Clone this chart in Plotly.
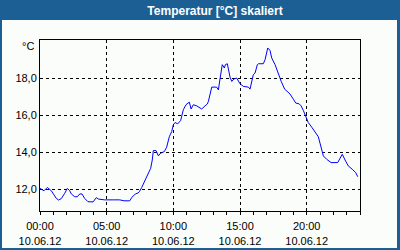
import plotly.graph_objects as go
import pandas as pd

# ---- data ----
hours = [0.0, 0.15, 0.3, 0.55, 0.85, 1.05, 1.22, 1.4, 1.6, 1.85, 2.05, 2.23, 2.35, 2.6, 2.8,
         2.98, 3.15, 3.35, 3.6, 3.98, 4.22, 4.4, 4.85, 5.5, 5.98, 6.3, 6.73, 6.9, 7.15, 7.35,
         7.45, 7.63, 7.87, 8.12, 8.3, 8.42, 8.5, 8.7, 8.88, 9.05, 9.32, 9.5, 9.7, 9.88, 10.0,
         10.13, 10.33, 10.55, 10.75, 10.95, 11.2, 11.33, 11.5, 11.75, 11.95, 12.13, 12.38,
         12.55, 12.63, 12.75, 12.88, 13.25, 13.38, 13.5, 13.63, 13.67, 13.83, 13.9, 14.05,
         14.12, 14.25, 14.38, 14.55, 14.75, 14.88, 15.0, 15.25, 15.63, 15.75, 15.88, 16.0,
         16.13, 16.3, 16.38, 16.75, 16.88, 17.0, 17.08, 17.25, 17.38, 17.63, 17.87, 18.1,
         18.35, 18.75, 19.0, 19.18, 19.43, 19.58, 19.75, 19.93, 20.12, 20.38, 20.63, 20.87,
         21.0, 21.13, 21.25, 21.5, 21.83, 22.33, 22.5, 22.67, 22.88, 23.12, 23.42, 23.68, 23.83]
temps = [12.05, 11.98, 11.92, 12.1, 11.92, 11.7, 11.51, 11.42, 11.5, 11.78, 12.05, 11.92, 11.75,
         11.6, 11.6, 11.75, 11.75, 11.51, 11.33, 11.32, 11.55, 11.47, 11.43, 11.43, 11.43, 11.38,
         11.38, 11.57, 11.75, 11.8, 11.87, 12.1, 12.5, 12.86, 13.13, 13.58, 14.09, 14.09, 13.8,
         13.95, 14.03, 14.27, 14.84, 15.11, 15.48, 15.6, 15.53, 15.71, 16.29, 16.56, 16.7, 16.33,
         16.56, 16.5, 16.4, 16.33, 16.5, 16.6, 16.74, 17.19, 17.51, 17.51, 17.36, 17.95, 18.49,
         18.72, 18.54, 18.72, 18.77, 18.54, 18.05, 17.82, 17.95, 18.0, 17.86, 17.69, 17.55, 17.51,
         17.4, 17.87, 18.18, 18.27, 18.72, 18.77, 18.77, 18.99, 19.44, 19.62, 19.49, 19.08, 18.72,
         18.2, 17.8, 17.4, 17.14, 16.86, 16.65, 16.61, 16.5, 16.25, 15.89, 15.6, 15.35, 15.11,
         14.84, 14.49, 14.03, 13.8, 13.62, 13.44, 13.44, 13.68, 13.89, 13.58, 13.26, 13.08,
         12.9, 12.68]
day = "2012-06-10"
y_ticks = [12, 14, 16, 18]
title_text = "Temperatur [°C] skaliert"
unit_text = "°C"

times = pd.Timestamp(day) + pd.to_timedelta(hours, unit="h")

BLUE = "#1b5f94"
BG = "#fbfdfb"
FONT = "Liberation Sans, Arial, sans-serif"

fig = go.Figure()
fig.add_trace(go.Scatter(x=times, y=temps, mode="lines",
                         line=dict(color="#0000ff", width=1), hoverinfo="skip"))

W, H = 400, 250
L, R, T, B = 40, 40, 40, 39
pw, ph = W - L - R, H - T - B

def px_x(px):
    return (px - L) / pw

def px_y(py):
    return (H - B - py) / ph

fig.update_layout(
    width=W, height=H,
    margin=dict(l=L, r=R, t=T, b=B, autoexpand=False),
    paper_bgcolor=BLUE,
    plot_bgcolor=BG,
    showlegend=False,
    separators=",.",
    font=dict(family=FONT, size=11, color="#000000"),
    title=dict(text="<b>" + title_text + "</b>", x=215 / W, xref="container", xanchor="center",
               y=1 - 10.5 / H, yref="container", yanchor="middle",
               font=dict(family=FONT, size=12, color="#ffffff")),
    shapes=[dict(type="rect", xref="paper", yref="paper",
                 x0=px_x(2), x1=px_x(397), y0=px_y(248), y1=px_y(20),
                 fillcolor=BG, line=dict(width=0), layer="below")],
    annotations=[dict(text=unit_text, xref="paper", yref="paper",
                      x=px_x(36), y=px_y(46), xanchor="right", yanchor="middle",
                      showarrow=False, font=dict(family=FONT, size=11, color="#000000"))],
)

fig.update_xaxes(
    type="date", automargin=False,
    range=[pd.Timestamp(day), pd.Timestamp(day) + pd.Timedelta(hours=24)],
    tick0=pd.Timestamp(day), dtick=5 * 3600000,
    tickformat="%H:%M<br>%d.%m.%y",
    ticks="outside", ticklen=3, tickcolor="#000000", tickwidth=1,
    ticklabelstandoff=2,
    minor=dict(dtick=3600000, ticks="outside", ticklen=3, tickcolor="#000000",
               tickwidth=1, showgrid=False),
    showgrid=True, gridcolor="#000000", gridwidth=1, griddash="3px,3px",
    showline=True, linecolor="#000000", linewidth=1, mirror=True,
    zeroline=False, fixedrange=True,
)
fig.update_yaxes(
    automargin=False,
    range=[10.83, 20.05],
    tickvals=y_ticks, tickformat=".1f",
    ticks="", showgrid=True, gridcolor="#000000", gridwidth=1, griddash="3px,3px",
    showline=True, linecolor="#000000", linewidth=1, mirror=True,
    zeroline=False, fixedrange=True,
)

fig.write_html("out.html", config={"displayModeBar": False})
